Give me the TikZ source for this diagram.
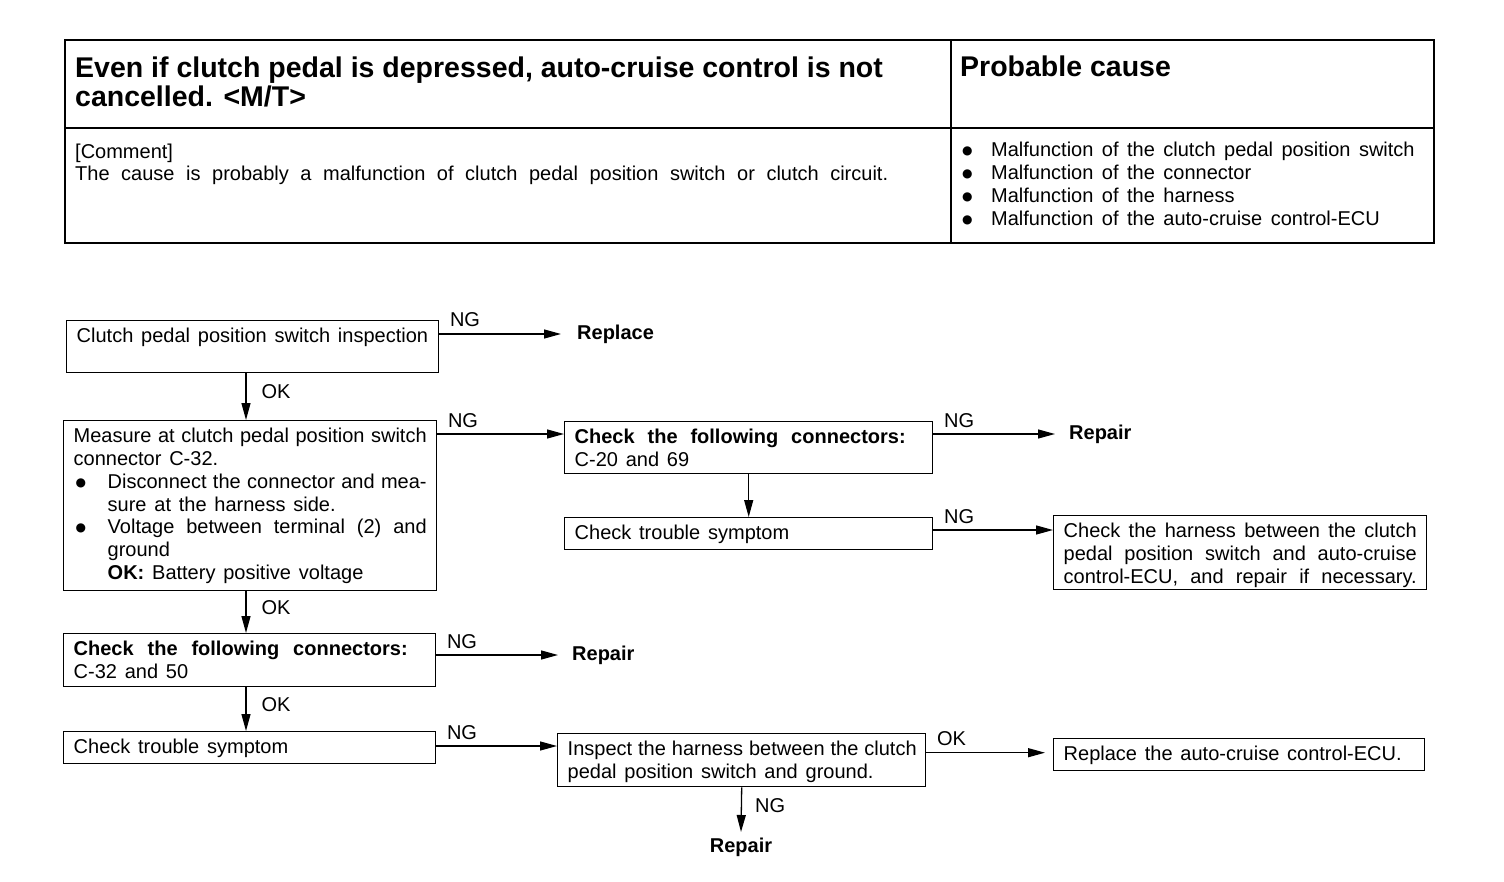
\documentclass[tikz,border=0pt]{standalone}
\usepackage{fontspec}
\setmainfont{Liberation Sans}
\newfontfamily\dejavu{DejaVu Sans}
\usetikzlibrary{arrows.meta,calc}
\newcommand{\bodyf}{\fontsize{20}{22.8}\selectfont}
\newcommand{\headf}{\fontsize{28.5}{29}\selectfont\bfseries}
\newcommand{\bxc}[3]{\parbox[t][#2][t]{#1}{\leftskip=10pt\parindent=0pt\spaceskip=7.8pt plus 3pt minus 2pt\relax\noindent\rule{0pt}{22pt}#3}}
\newcommand{\jl}[2]{\makebox[#1][s]{#2}}
\newcommand{\bigdot}{\raisebox{2pt}{\dejavu\fontsize{12}{12}\selectfont ●}}
\newcommand{\bl}{\makebox[34pt][l]{\hspace*{2pt}\bigdot}}
\newcommand{\tbl}{\makebox[30pt][l]{\hspace*{1pt}\bigdot}}
\begin{document}
\begin{tikzpicture}[x=1pt,y=-1pt, font=\bodyf,
  fbox/.style={draw, line width=1.4pt, inner sep=0pt, anchor=north west},
  arr/.style={line width=1.3pt, -{Triangle[length=17pt,width=9pt]}},
  lbl/.style={inner sep=0pt, anchor=base west},
  tgt/.style={inner xsep=14pt, inner ysep=0pt, anchor=west, font=\bodyf\bfseries},
  nglbl/.style={pos=0, inner sep=0pt, anchor=base west, xshift=10pt, yshift=7pt},
  oklbl/.style={pos=0.4, inner sep=0pt, anchor=west, xshift=15pt},
]
\useasboundingbox (0,0) rectangle (1504,882);
\fill[white] (0,0) rectangle (1504,882);
% table
\draw[line width=2pt] (65,40) rectangle (1434,243);
\draw[line width=1.5pt] (65,128) -- (1434,128);
\draw[line width=1.5pt] (951,40) -- (951,243);
\node[lbl, font=\headf] (title) at (75,78) {\parbox[t]{870pt}{Even if clutch pedal is depressed, auto-cruise control is not\\cancelled. <M/T>}};
\node[lbl, font=\headf] (pc) at (960,77) {Probable cause};
\node[lbl] (cm) at (75,159) {\parbox[t]{830pt}{\fontsize{20}{22}\selectfont[Comment]\\\jl{813pt}{The cause is probably a malfunction of clutch pedal position switch or clutch circuit.}}};
\node[lbl] (causes) at (961,157) {\parbox[t]{470pt}{\spaceskip=8.5pt\relax
\tbl\jl{428pt}{Malfunction of the clutch pedal position switch}\\
\tbl Malfunction of the connector\\
\tbl Malfunction of the harness\\
\tbl Malfunction of the auto-cruise control-ECU}};
% boxes
\node[fbox] (A) at (66,320) {\bxc{372pt}{52pt}{Clutch pedal position switch inspection}};
\node[fbox] (B) at (63,420) {\bxc{373pt}{170pt}{\jl{353pt}{Measure at clutch pedal position switch}\\
connector C-32.\\
\bl\jl{319pt}{Disconnect the connector and mea-}\\
\hspace*{34pt}sure at the harness side.\\
\bl\jl{319pt}{Voltage between terminal (2) and}\\
\hspace*{34pt}ground\\
\hspace*{34pt}\textbf{OK:} Battery positive voltage}};
\node[fbox] (C) at (564,421) {\bxc{368pt}{52pt}{\textbf{\jl{331pt}{Check the following connectors:}}\\C-20 and 69}};
\node[fbox] (D) at (564,517) {\bxc{368pt}{32pt}{Check trouble symptom}};
\node[fbox] (E) at (1053,515) {\bxc{373pt}{74pt}{\jl{353pt}{Check the harness between the clutch}\\
\jl{353pt}{pedal position switch and auto-cruise}\\
\jl{353pt}{control-ECU, and repair if necessary.}}};
\node[fbox] (F) at (63,633) {\bxc{372pt}{53pt}{\textbf{\jl{334pt}{Check the following connectors:}}\\C-32 and 50}};
\node[fbox] (G) at (63,731) {\bxc{372pt}{32pt}{Check trouble symptom}};
\node[fbox] (H) at (557,733) {\bxc{368pt}{53pt}{\jl{349pt}{Inspect the harness between the clutch}\\
pedal position switch and ground.}};
\node[fbox] (I) at (1053,738) {\bxc{371pt}{32pt}{Replace the auto-cruise control-ECU.}};
% targets
\node[tgt, inner xsep=16pt] (Rep1) at (561,334) {Replace};
\node[tgt] (Rep2) at (1055,434) {Repair};
\node[tgt] (Rep3) at (558,655) {Repair};
\node[tgt, anchor=north, inner xsep=0pt, inner ysep=6pt] (Rep4) at (741,832) {Repair};
% coordinates
\coordinate (okx) at (246,0);
\coordinate (cin) at ([yshift=-13pt]C.north west);
\coordinate (ein) at ([yshift=-15pt]E.north west);
\coordinate (hin) at ([yshift=-13pt]H.north west);
\coordinate (iin) at ([xshift=-8pt,yshift=2pt]I.west);
% connectors
\draw[arr] (A.east |- Rep1.west) -- node[nglbl]{NG} (Rep1.west);
\draw[arr] (A.south -| okx) -- node[oklbl]{OK} (B.north -| okx);
\draw[arr] (B.east |- cin) -- node[nglbl]{NG} (cin);
\draw[arr] (C.east |- Rep2.west) -- node[nglbl]{NG} (Rep2.west);
\draw[arr] (C.south) -- (D.north);
\draw[arr] (D.east |- ein) -- node[nglbl]{NG} (ein);
\draw[arr] (B.south -| okx) -- node[oklbl]{OK} (F.north -| okx);
\draw[arr] (F.east |- Rep3.west) -- node[nglbl]{NG} (Rep3.west);
\draw[arr] (F.south -| okx) -- node[oklbl]{OK} (G.north -| okx);
\draw[arr] (G.east |- hin) -- node[nglbl]{NG} (hin);
\draw[arr] (H.east |- iin) -- node[nglbl]{OK} (iin);
\draw[arr] (H.south) -- node[oklbl, xshift=-2pt]{NG} (Rep4.north);
\end{tikzpicture}
\end{document}
